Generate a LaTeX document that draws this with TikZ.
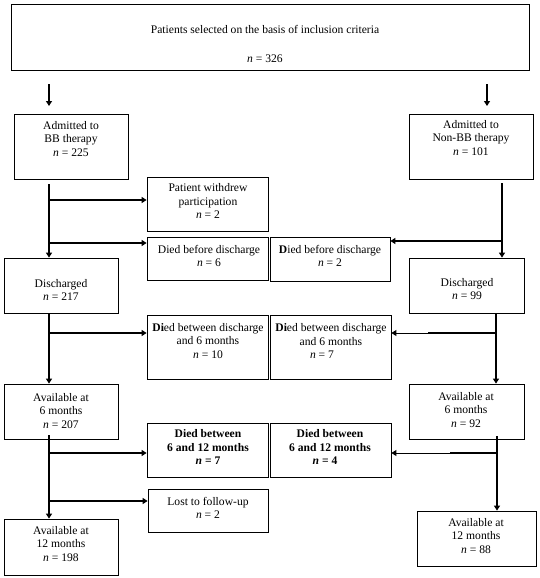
\documentclass[tikz,border=0pt]{standalone}
\usepackage{fontspec}
\setmainfont{Liberation Serif}
\usetikzlibrary{arrows.meta,calc,fit}
\begin{document}
\begin{tikzpicture}[x=1pt,y=-1pt,
  box/.style={draw, line width=0.8pt, inner sep=0pt, rectangle},
  lbl/.style={align=center, inner sep=0pt, font=\fontsize{11.6}{13.6}\selectfont},
  trunk/.style={line width=2pt, -{Triangle[length=5pt,width=6pt]}},
  branch/.style={line width=2pt, -{Triangle[length=5pt,width=6pt]}},
  thinbranch/.style={line width=1pt, -{Triangle[length=5pt,width=6pt]}},
  heavy/.style={line width=2pt},
  toparrow/.style={line width=1.2pt, -{Triangle[length=5pt,width=6pt]}}
]
\useasboundingbox (0,0) rectangle (540,578);

% boxes
\node[box, fit={(11,4)(529,70)}] (top) {};
\node[lbl] (topt) at (265,44) {Patients selected on the basis of inclusion criteria\\[15pt]\textit{n} = 326};

\node[box, fit={(14,114)(128,179)}] (ABB) {};
\node[lbl] (ABBt) at (71,139) {Admitted to\\BB therapy\\\textit{n} = 225};
\node[box, fit={(409,114)(533,179)}] (ANBB) {};
\node[lbl] (ANBBt) at (471,138) {Admitted to\\Non-BB therapy\\\textit{n} = 101};

\node[box, fit={(147,177)(268,231)}] (W) {};
\node[lbl] (Wt) at (208,201) {Patient withdrew\\participation\\\textit{n} = 2};

\node[box, fit={(147,237)(268,280)}] (DBDB) {};
\node[lbl] (DBDBt) at (209,256) {Died before discharge\\\textit{n} = 6};
\node[box, fit={(270,237)(390,281)}] (DBDN) {};
\node[lbl] (DBDNt) at (330,256) {\textbf{D}ied before discharge\\\textit{n} = 2};

\node[box, fit={(4,258)(118,313)}] (DB) {};
\node[lbl] (DBt) at (61,290) {Discharged\\\textit{n} = 217};
\node[box, fit={(409,258)(524,313)}] (DN) {};
\node[lbl] (DNt) at (467,289) {Discharged\\\textit{n} = 99};

\node[box, fit={(147,315)(268,379)}] (DTB) {};
\node[lbl] (DTBt) at (208,341) {\textbf{Di}ed between discharge\\and 6 months\\\textit{n} = 10};
\node[box, fit={(270,315)(391,379)}] (DTN) {};
\node[lbl] (DTNt) at (331,341) {\textbf{Di}ed between discharge\\and 6 months\\\hspace*{-18pt}\textit{n} = 7};

\node[box, fit={(4,384)(118,439)}] (A6B) {};
\node[lbl] (A6Bt) at (61,411) {Available at\\6 months\\\textit{n} = 207};
\node[box, fit={(409,384)(524,439)}] (A6N) {};
\node[lbl] (A6Nt) at (466,410) {Available at\\6 months\\\textit{n} = 92};

\node[box, fit={(147,423)(268,477)}] (D12B) {};
\node[lbl, font=\fontsize{11.6}{13.6}\selectfont\bfseries] (D12Bt) at (208,447) {Died between\\6 and 12 months\\\textit{n} = 7};
\node[box, fit={(270,423)(391,477)}] (D12N) {};
\node[lbl, font=\fontsize{11.6}{13.6}\selectfont\bfseries] (D12Nt) at (330,447) {Died between\\6 and 12 months\\\hspace*{-10pt}\textit{n} = 4};

\node[box, fit={(148,489)(268,532)}] (LB) {};
\node[lbl] (LBt) at (208,508) {Lost to follow-up\\\textit{n} = 2};

\node[box, fit={(4,519)(118,575)}] (A12B) {};
\node[lbl] (A12Bt) at (61,544) {Available at\\12 months\\\textit{n} = 198};
\node[box, fit={(417,511)(536,566)}] (A12N) {};
\node[lbl] (A12Nt) at (476,536) {Available at\\12 months\\\textit{n} = 88};

% top arrows
\coordinate (tl) at (49,84); \coordinate (tle) at (49,106);
\coordinate (tr) at (487,84); \coordinate (tre) at (487,106);
\draw[toparrow] (tl) -- (tle);
\draw[toparrow] (tr) -- (tre);

% BB trunk
\coordinate (xb) at (49,0);
\draw[trunk] ($(ABB.south -| xb)+(0,5)$) -- (DB.north -| xb);
\draw[trunk] (DB.south -| xb) -- (A6B.north -| xb);
\draw[trunk] ($(A6B.south -| xb)+(0,-4)$) -- (A12B.north -| xb);

% BB branches
\coordinate (bb1) at (49,200);
\coordinate (bb2) at (49,243);
\coordinate (bb3) at (49,333);
\coordinate (bb4) at (49,453);
\coordinate (bb5) at (49,501);
\draw[branch] (bb1) -- (bb1 -| W.west);
\draw[branch] (bb2) -- (bb2 -| DBDB.west);
\draw[branch] (bb3) -- (bb3 -| DTB.west);
\draw[branch] (bb4) -- (bb4 -| D12B.west);
\draw[branch] (bb5) -- (bb5 -| LB.west);

% Non-BB trunk
\coordinate (xn1) at (502,0);
\coordinate (xn2) at (496,0);
\coordinate (xn3) at (497,0);
\draw[trunk] ($(ANBB.south -| xn1)+(0,4)$) -- (DN.north -| xn1);
\draw[trunk] (DN.south -| xn2) -- (A6N.north -| xn2);
\draw[trunk] ($(A6N.south -| xn3)+(0,-3)$) -- (A12N.north -| xn3);

% Non-BB branches
\coordinate (nb1) at (502,241);
\coordinate (nb2) at (496,333);
\coordinate (nb3) at (497,453);
\coordinate (nb2h) at (428,333);
\coordinate (nb3h) at (450,453);
\draw[branch] (nb1) -- (nb1 -| DBDN.east);
\draw[thinbranch] (nb2) -- (nb2 -| DTN.east);
\draw[heavy] (nb2) -- (nb2h);
\draw[thinbranch] (nb3) -- (nb3 -| D12N.east);
\draw[heavy] (nb3) -- (nb3h);
\end{tikzpicture}
\end{document}
